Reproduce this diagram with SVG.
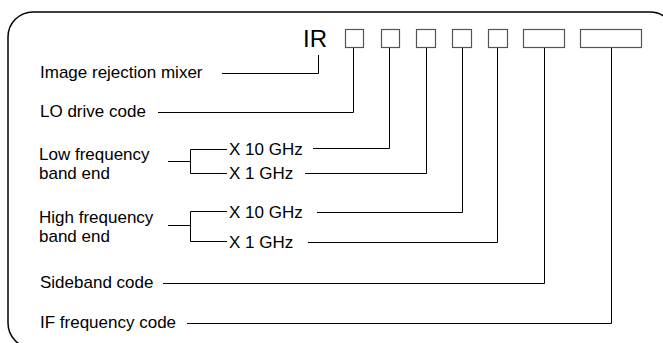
<svg xmlns="http://www.w3.org/2000/svg" width="663" height="343" viewBox="0 0 663 343">
<style>
.t{font-family:"Liberation Sans",Arial,sans-serif;font-size:17px;fill:#000}
.big{font-size:24px}
.box{fill:#fff;stroke:#555;stroke-width:1.2}
.ln{fill:none;stroke:#000;stroke-width:1}
.frame{fill:none;stroke:#000;stroke-width:1.5}
</style>
<rect class="frame" x="8" y="12" width="667" height="336" rx="25" ry="25"/>
<g id="code">
<text class="t big" x="303" y="47">IR</text>
<rect class="box" x="345.5" y="29.5" width="18" height="18"/>
<rect class="box" x="381.5" y="29.5" width="18" height="18"/>
<rect class="box" x="416.5" y="29.5" width="19" height="18"/>
<rect class="box" x="452.5" y="29.5" width="19" height="18"/>
<rect class="box" x="488.5" y="29.5" width="19" height="18"/>
<rect class="box" x="523.5" y="29.5" width="41" height="18"/>
<rect class="box" x="580.5" y="29.5" width="61" height="18"/>
</g>
<g id="labels">
<text class="t" x="40" y="78">Image rejection mixer</text>
<text class="t" x="40" y="117">LO drive code</text>
<text class="t" x="39" y="160">Low frequency</text>
<text class="t" x="39" y="179">band end</text>
<text class="t" x="229" y="155">X 10 GHz</text>
<text class="t" x="229" y="179">X 1 GHz</text>
<text class="t" x="39" y="223">High frequency</text>
<text class="t" x="39" y="242">band end</text>
<text class="t" x="229" y="218">X 10 GHz</text>
<text class="t" x="229" y="248">X 1 GHz</text>
<text class="t" x="40" y="288">Sideband code</text>
<text class="t" x="40" y="328">IF frequency code</text>
</g>
<g id="connectors">
<polyline class="ln" points="222,73.5 318.5,73.5 318.5,55"/>
<polyline class="ln" points="158,112.5 353.5,112.5 353.5,48"/>
<polyline class="ln" points="168,161.5 190.5,161.5"/>
<polyline class="ln" points="227,149.5 190.5,149.5 190.5,173.5 227,173.5"/>
<polyline class="ln" points="313,148.5 389.5,148.5 389.5,48"/>
<polyline class="ln" points="305,173.5 426.5,173.5 426.5,48"/>
<polyline class="ln" points="168,225.5 190.5,225.5"/>
<polyline class="ln" points="227,211.5 190.5,211.5 190.5,241.5 227,241.5"/>
<polyline class="ln" points="317,212.5 462.5,212.5 462.5,48"/>
<polyline class="ln" points="308,242.5 497.5,242.5 497.5,48"/>
<polyline class="ln" points="163,283.5 544.5,283.5 544.5,48"/>
<polyline class="ln" points="187,323.5 611.5,323.5 611.5,48"/>
</g>
</svg>
